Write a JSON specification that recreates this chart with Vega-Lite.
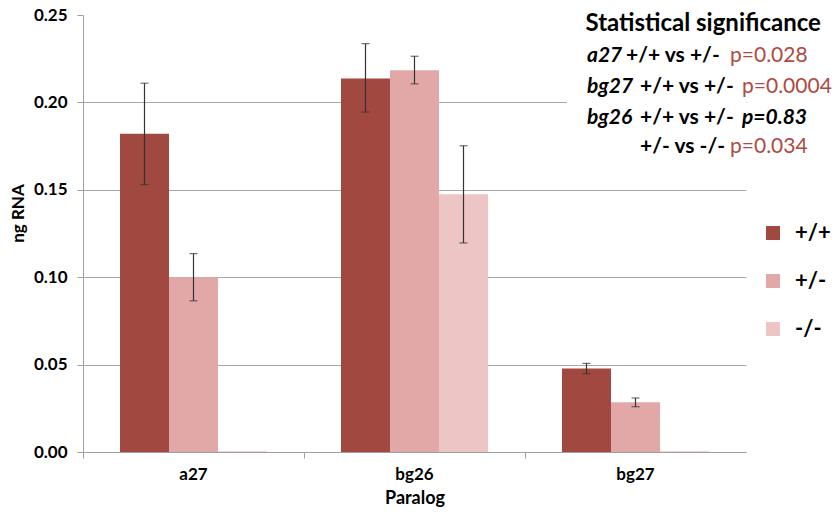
{
  "$schema": "https://vega.github.io/schema/vega-lite/v6.json",
  "autosize": "none",
  "width": 663,
  "height": 437,
  "padding": {"left": 83, "top": 15, "right": 89, "bottom": 60},
  "background": "white",
  "config": {
    "view": {"stroke": null},
    "font": "Lato",
    "text": {"font": "Lato", "fontWeight": "bold", "fontSize": 21, "align": "left", "baseline": "middle"}
  },
  "data": {
    "values": [
      {"Paralog": "a27", "Genotype": "+/+", "ng": 0.182, "lo": 0.153, "hi": 0.211},
      {"Paralog": "a27", "Genotype": "+/-", "ng": 0.100, "lo": 0.0865, "hi": 0.1135},
      {"Paralog": "a27", "Genotype": "-/-", "ng": 0.0005},
      {"Paralog": "bg26", "Genotype": "+/+", "ng": 0.2137, "lo": 0.1945, "hi": 0.2336},
      {"Paralog": "bg26", "Genotype": "+/-", "ng": 0.2184, "lo": 0.2106, "hi": 0.2264},
      {"Paralog": "bg26", "Genotype": "-/-", "ng": 0.1474, "lo": 0.1196, "hi": 0.1752},
      {"Paralog": "bg27", "Genotype": "+/+", "ng": 0.0477, "lo": 0.0448, "hi": 0.0507},
      {"Paralog": "bg27", "Genotype": "+/-", "ng": 0.0284, "lo": 0.0259, "hi": 0.0309},
      {"Paralog": "bg27", "Genotype": "-/-", "ng": 0.0005}
    ]
  },
  "layer": [
    {
      "mark": {"type": "bar"},
      "encoding": {
        "x": {
          "field": "Paralog", "type": "nominal",
          "scale": {"domain": ["a27", "bg26", "bg27"], "paddingInner": 0, "paddingOuter": 0},
          "axis": {
            "title": "Paralog", "labelAngle": 0, "bandPosition": 0,
            "labelFontWeight": "bold", "labelFontSize": 17, "labelColor": "black", "labelPadding": 8,
            "titleFontWeight": "bold", "titleFontSize": 18, "titleColor": "black", "titlePadding": 7,
            "domainColor": "#a0a0a0", "tickColor": "#a0a0a0", "tickSize": 6, "grid": false
          }
        },
        "xOffset": {
          "field": "Genotype", "type": "nominal",
          "scale": {"domain": ["+/+", "+/-", "-/-"], "paddingInner": 0, "paddingOuter": 0.755}
        },
        "y": {
          "field": "ng", "type": "quantitative",
          "scale": {"domain": [0, 0.25], "nice": false},
          "axis": {
            "title": "ng RNA", "values": [0, 0.05, 0.1, 0.15, 0.2, 0.25], "format": ".2f",
            "labelFontWeight": "bold", "labelFontSize": 17, "labelColor": "black", "labelPadding": 10,
            "titleFontWeight": "bold", "titleFontSize": 17, "titleColor": "black",
            "titleX": -65, "titleY": 198, "titleAngle": -90, "titleBaseline": "middle", "titleAlign": "center",
            "domainColor": "#a0a0a0", "tickColor": "#a0a0a0", "tickSize": 6,
            "grid": true, "gridColor": "#a8a8a8", "gridWidth": 1,
            "gridOpacity": {"condition": {"test": "datum.value >= 0.249", "value": 0}, "value": 1}
          }
        },
        "color": {
          "field": "Genotype", "type": "nominal",
          "scale": {"domain": ["+/+", "+/-", "-/-"], "range": ["#a14840", "#e2a8a7", "#edc5c4"]},
          "legend": {
            "title": null, "orient": "none", "legendX": 679, "legendY": 207, "padding": 0,
            "symbolType": "square", "symbolSize": 196, "symbolStrokeWidth": 0, "symbolOpacity": 1,
            "labelFontWeight": "bold", "labelFontSize": 22, "labelColor": "black",
            "labelOffset": 11, "rowPadding": 26
          }
        }
      }
    },
    {
      "mark": {"type": "rule", "color": "#333333", "strokeWidth": 1.2},
      "encoding": {
        "x": {"field": "Paralog", "type": "nominal"},
        "xOffset": {"field": "Genotype", "type": "nominal"},
        "y": {"field": "lo", "type": "quantitative"},
        "y2": {"field": "hi"}
      }
    },
    {
      "mark": {"type": "tick", "color": "#333333", "size": 8, "thickness": 1.2, "orient": "horizontal"},
      "encoding": {
        "x": {"field": "Paralog", "type": "nominal"},
        "xOffset": {"field": "Genotype", "type": "nominal"},
        "y": {"field": "lo", "type": "quantitative"}
      }
    },
    {
      "mark": {"type": "tick", "color": "#333333", "size": 8, "thickness": 1.2, "orient": "horizontal"},
      "encoding": {
        "x": {"field": "Paralog", "type": "nominal"},
        "xOffset": {"field": "Genotype", "type": "nominal"},
        "y": {"field": "hi", "type": "quantitative"}
      }
    },
    {
      "data": {"values": [{"box": "note"}]},
      "mark": {"type": "rect", "color": "white"},
      "encoding": {
        "x": {"datum": "bg27", "bandPosition": 0.19},
        "x2": {"datum": "bg27", "bandPosition": 1},
        "y": {"datum": 0.25},
        "y2": {"datum": 0.17}
      }
    },
    {
      "data": {"values": [{"t": "Statistical significance"}]},
      "mark": {"type": "text", "dx": -50, "fontSize": 24},
      "encoding": {"x": {"datum": "bg27"}, "y": {"datum": 0.2449}, "text": {"field": "t"}}
    },
    {
      "data": {"values": [{"t": "a27"}]},
      "mark": {"type": "text", "dx": -48.5, "fontStyle": "italic"},
      "encoding": {"x": {"datum": "bg27"}, "y": {"datum": 0.2266}, "text": {"field": "t"}}
    },
    {
      "data": {"values": [{"t": "+/+ vs +/-"}]},
      "mark": {"type": "text", "dx": -9.5},
      "encoding": {"x": {"datum": "bg27"}, "y": {"datum": 0.2266}, "text": {"field": "t"}}
    },
    {
      "data": {"values": [{"t": "p=0.028"}]},
      "mark": {"type": "text", "dx": 94.5, "fontWeight": "normal", "color": "#b04a40"},
      "encoding": {"x": {"datum": "bg27"}, "y": {"datum": 0.2266}, "text": {"field": "t"}}
    },
    {
      "data": {"values": [{"t": "bg27"}]},
      "mark": {"type": "text", "dx": -48.5, "fontStyle": "italic"},
      "encoding": {"x": {"datum": "bg27"}, "y": {"datum": 0.2088}, "text": {"field": "t"}}
    },
    {
      "data": {"values": [{"t": "+/+ vs +/-"}]},
      "mark": {"type": "text", "dx": 4.5},
      "encoding": {"x": {"datum": "bg27"}, "y": {"datum": 0.2088}, "text": {"field": "t"}}
    },
    {
      "data": {"values": [{"t": "p=0.0004"}]},
      "mark": {"type": "text", "dx": 106.5, "fontWeight": "normal", "color": "#b04a40"},
      "encoding": {"x": {"datum": "bg27"}, "y": {"datum": 0.2088}, "text": {"field": "t"}}
    },
    {
      "data": {"values": [{"t": "bg26"}]},
      "mark": {"type": "text", "dx": -48.5, "fontStyle": "italic"},
      "encoding": {"x": {"datum": "bg27"}, "y": {"datum": 0.1911}, "text": {"field": "t"}}
    },
    {
      "data": {"values": [{"t": "+/+ vs +/-"}]},
      "mark": {"type": "text", "dx": 4.5},
      "encoding": {"x": {"datum": "bg27"}, "y": {"datum": 0.1911}, "text": {"field": "t"}}
    },
    {
      "data": {"values": [{"t": "p=0.83"}]},
      "mark": {"type": "text", "dx": 106.5, "fontStyle": "italic"},
      "encoding": {"x": {"datum": "bg27"}, "y": {"datum": 0.1911}, "text": {"field": "t"}}
    },
    {
      "data": {"values": [{"t": "+/- vs -/-"}]},
      "mark": {"type": "text", "dx": 4.5},
      "encoding": {"x": {"datum": "bg27"}, "y": {"datum": 0.1745}, "text": {"field": "t"}}
    },
    {
      "data": {"values": [{"t": "p=0.034"}]},
      "mark": {"type": "text", "dx": 94.5, "fontWeight": "normal", "color": "#b04a40"},
      "encoding": {"x": {"datum": "bg27"}, "y": {"datum": 0.1745}, "text": {"field": "t"}}
    }
  ]
}
